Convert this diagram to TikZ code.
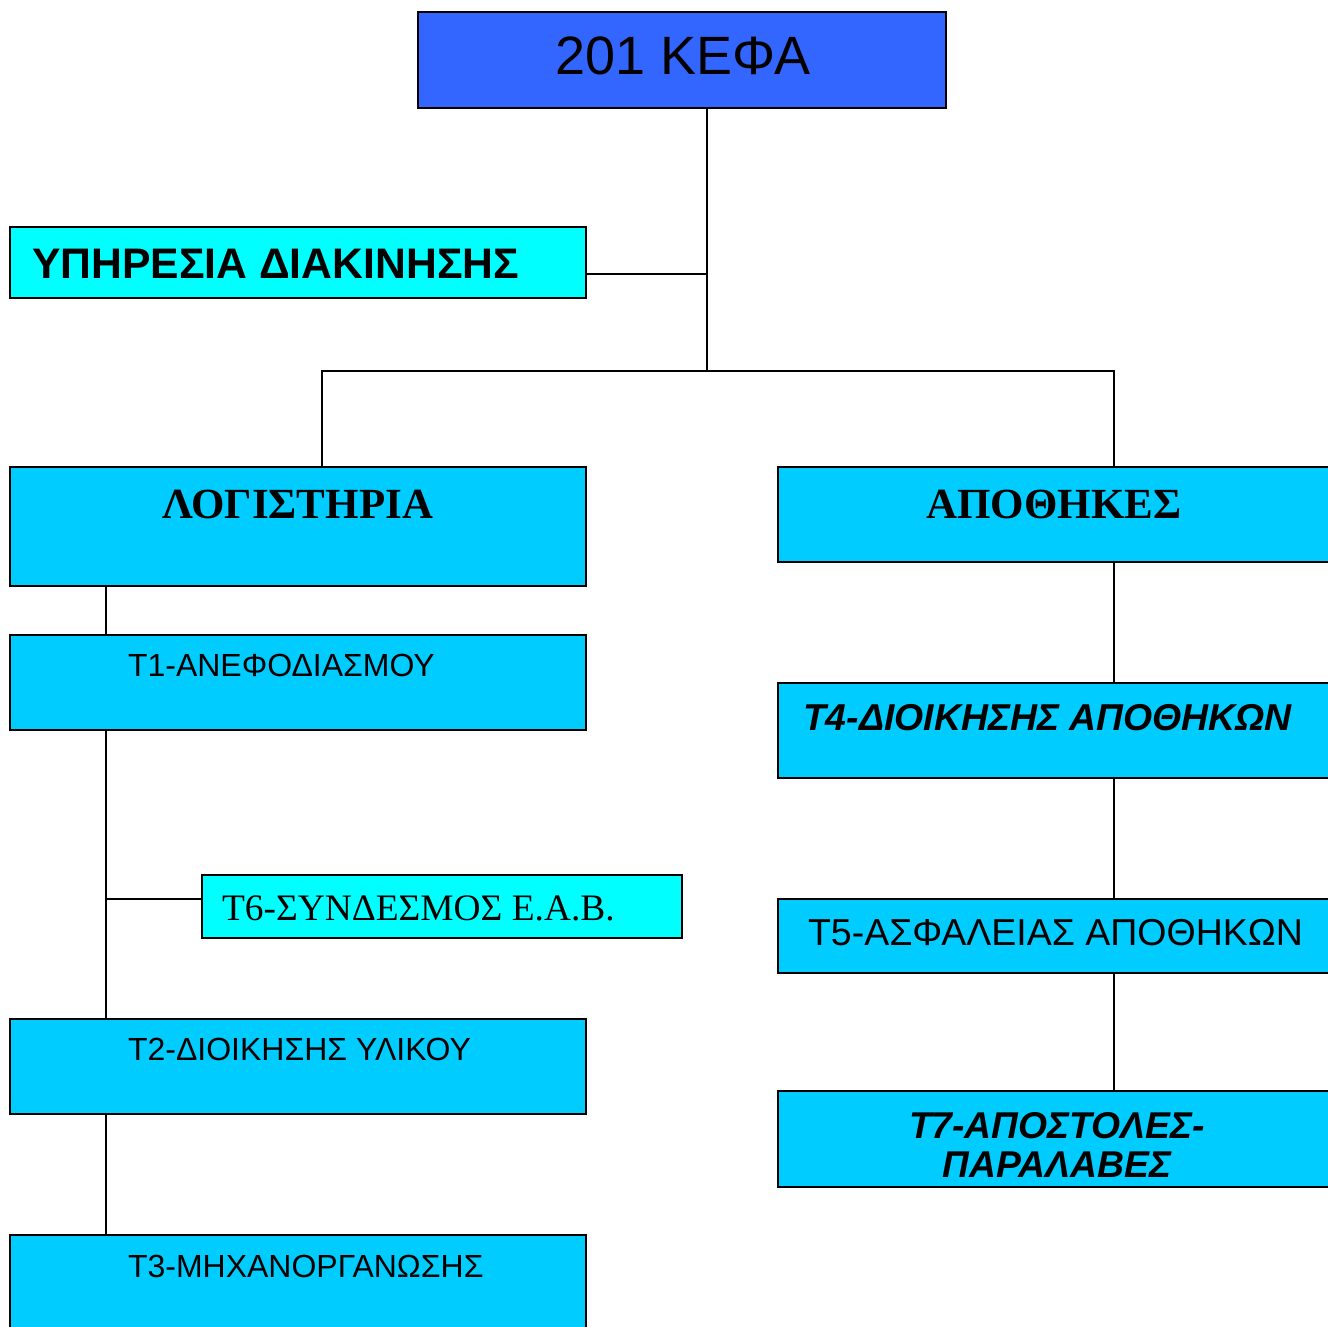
\documentclass[tikz,border=0pt]{standalone}
\usepackage{fontspec}
\setmainfont{Liberation Serif}
\setsansfont{Liberation Sans}
\definecolor{kefablue}{HTML}{3366FF}
\definecolor{aquafill}{HTML}{00FFFF}
\definecolor{skyfill}{HTML}{00CCFF}
\begin{document}
\begin{tikzpicture}[x=1pt,y=-1pt,
  box/.style={draw=black,line width=1.6pt,rectangle,anchor=north west,inner sep=0pt,outer sep=0pt},
  lbl/.style={inner sep=0pt,outer sep=0pt,text=black},
  conn/.style={draw=black,line width=1.6pt}]
\path[use as bounding box,clip] (0,0) rectangle (1328,1326);
\fill[white] (0,0) rectangle (1328,1326);
% boxes
\node[box,fill=kefablue,minimum width=528,minimum height=96] (kefa) at (418,12) {};
\node[box,fill=aquafill,minimum width=576,minimum height=71] (yp) at (10,227) {};
\node[box,fill=skyfill,minimum width=576,minimum height=119] (logi) at (10,467) {};
\node[box,fill=skyfill,minimum width=554,minimum height=95] (apo) at (778,467) {};
\node[box,fill=skyfill,minimum width=576,minimum height=95] (t1) at (10,635) {};
\node[box,fill=aquafill,minimum width=480,minimum height=63] (t6) at (202,875) {};
\node[box,fill=skyfill,minimum width=576,minimum height=95] (t2) at (10,1019) {};
\node[box,fill=skyfill,minimum width=576,minimum height=100] (t3) at (10,1235) {};
\node[box,fill=skyfill,minimum width=554,minimum height=95] (t4) at (778,683) {};
\node[box,fill=skyfill,minimum width=554,minimum height=74] (t5) at (778,899) {};
\node[box,fill=skyfill,minimum width=554,minimum height=96] (t7) at (778,1091) {};
% texts
\node[lbl,anchor=base] (kefatx) at (683,74) {\sffamily\fontsize{54}{58}\selectfont 201 ΚΕΦΑ};
\node[lbl,anchor=base west] (yptx) at (32,278) {\sffamily\bfseries\fontsize{42.7}{46}\selectfont ΥΠΗΡΕΣΙΑ ΔΙΑΚΙΝΗΣΗΣ};
\node[lbl,anchor=base] (logitx) at (298,518) {\rmfamily\bfseries\fontsize{43}{46}\selectfont ΛΟΓΙΣΤΗΡΙΑ};
\node[lbl,anchor=base] (apotx) at (1054,518) {\rmfamily\bfseries\fontsize{43}{46}\selectfont ΑΠΟΘΗΚΕΣ};
\node[lbl,anchor=base west] (t1tx) at (128,676) {\sffamily\fontsize{32}{35}\selectfont Τ1-ΑΝΕΦΟΔΙΑΣΜΟΥ};
\node[lbl,anchor=base west] (t6tx) at (222,920) {\rmfamily\fontsize{37.4}{41}\selectfont Τ6-ΣΥΝΔΕΣΜΟΣ Ε.Α.Β.};
\node[lbl,anchor=base west] (t2tx) at (128,1060) {\sffamily\fontsize{32}{35}\selectfont Τ2-ΔΙΟΙΚΗΣΗΣ ΥΛΙΚΟΥ};
\node[lbl,anchor=base west] (t3tx) at (128,1277) {\sffamily\fontsize{32}{35}\selectfont Τ3-ΜΗΧΑΝΟΡΓΑΝΩΣΗΣ};
\node[lbl,anchor=base west] (t4tx) at (803,730) {\sffamily\bfseries\itshape\fontsize{37.4}{41}\selectfont Τ4-ΔΙΟΙΚΗΣΗΣ ΑΠΟΘΗΚΩΝ};
\node[lbl,anchor=base west] (t5tx) at (808,945) {\sffamily\fontsize{37.5}{41}\selectfont Τ5-ΑΣΦΑΛΕΙΑΣ ΑΠΟΘΗΚΩΝ};
\node[lbl,anchor=base] (t7tx) at (1057,1138) {\sffamily\bfseries\itshape\fontsize{37.3}{41}\selectfont Τ7-ΑΠΟΣΤΟΛΕΣ-};
\node[lbl,anchor=base] (t7tx2) at (1057,1177) {\sffamily\bfseries\itshape\fontsize{37.3}{41}\selectfont ΠΑΡΑΛΑΒΕΣ};
% junction coordinates
\coordinate (jbus) at (707,371);
\coordinate (jyp) at (707,274);
\coordinate (bl) at (322,371);
\coordinate (br) at (1114,371);
\coordinate (lx) at (106,899);
% connectors
\draw[conn] (kefa.south -| jbus) -- (jbus);
\draw[conn] (jyp) -- (jyp -| yp.east);
\draw[conn] (bl |- logi.north) -- (bl) -- (br) -- (br |- apo.north);
\draw[conn] (lx |- logi.south) -- (lx |- t1.north);
\draw[conn] (lx |- t1.south) -- (lx |- t2.north);
\draw[conn] (lx) -- (lx -| t6.west);
\draw[conn] (lx |- t2.south) -- (lx |- t3.north);
\draw[conn] (br |- apo.south) -- (br |- t4.north);
\draw[conn] (br |- t4.south) -- (br |- t5.north);
\draw[conn] (br |- t5.south) -- (br |- t7.north);
\end{tikzpicture}
\end{document}
